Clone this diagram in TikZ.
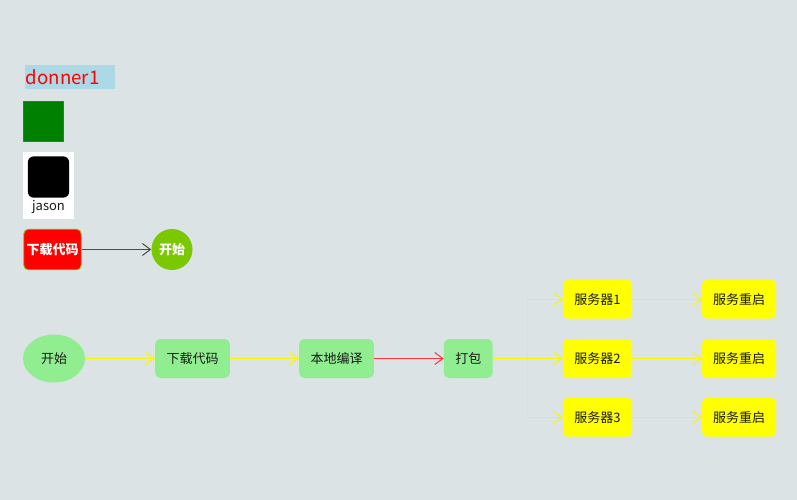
\documentclass[tikz,border=0pt]{standalone}
\usepackage{fontspec}
\setmainfont{Noto Sans CJK SC}
\usetikzlibrary{arrows.meta,positioning,calc,shapes.geometric}
\definecolor{bgcol}{RGB}{219,227,228}
\definecolor{lightgrn}{RGB}{144,238,144}
\definecolor{leafgrn}{RGB}{122,201,0}
\definecolor{skyblue}{RGB}{173,216,230}
\definecolor{pureyel}{RGB}{255,255,0}
\definecolor{lineyel}{RGB}{252,246,0}
\definecolor{purered}{RGB}{255,0,0}
\definecolor{puregrn}{RGB}{0,128,0}
\definecolor{softred}{RGB}{255,50,60}
\definecolor{edgered}{RGB}{225,40,40}
\tikzset{
  >={Straight Barb[length=6pt,width=9pt,line width=0.75pt]},
  txt/.style={font=\fontsize{9.75pt}{11pt}\selectfont,text=black!90,inner sep=0pt},
  stepbox/.style={txt,fill=lightgrn,rounded corners=3.75pt,minimum height=29.25pt},
  srvbox/.style={txt,fill=pureyel,rounded corners=3.75pt,minimum height=29.25pt},
  yline/.style={->,lineyel,line width=0.75pt},
  whitetxt/.style={inner sep=0pt,text=white,font=\bfseries\fontsize{9.75pt}{11pt}\selectfont},
}
\begin{document}
\begin{tikzpicture}[x=0.75pt,y=-0.75pt,line join=round]
\fill[bgcol] (0,0) rectangle (797,500);
\useasboundingbox (0,0) rectangle (797,500);
% top samples
\node[fill=skyblue,minimum width=67.5pt,minimum height=18pt,inner sep=0pt] (title) at (70,77) {};
\node[anchor=west,inner sep=0pt,text=purered,font=\fontsize{14pt}{16pt}\selectfont] (titletxt) at (25.5,77) {donner1};
\node[fill=puregrn,draw=edgered,line width=0.75pt,minimum size=30pt,inner sep=0pt] (square) at (43.5,121.5) {};
\node[fill=white,minimum width=38.25pt,minimum height=50.25pt,inner sep=0pt] (card) at (48.5,185.5) {};
\node[fill=black,rounded corners=4.5pt,minimum size=31pt,inner sep=0pt] (avatar) at (48.5,177) {};
\node[txt] (jason) at (48.5,207) {jason};
\node[whitetxt,fill=purered,draw=leafgrn,line width=0.6pt,rounded corners=3.5pt,minimum width=43pt,minimum height=30.5pt] (dl) at (52.5,249.5) {下载代码};
\node[whitetxt,circle,fill=leafgrn,minimum size=30.75pt] (go) at (172,249.5) {开始};
\draw[->,black!70,line width=0.75pt] (dl)--(go);
% flow
\node[ellipse,txt,fill=lightgrn,minimum width=46.5pt,minimum height=36pt] (start) at (54,358.5) {开始};
\node[stepbox,minimum width=56pt] (fetch) at (192.5,358.5) {下载代码};
\node[stepbox,minimum width=56pt] (build) at (336.5,358.5) {本地编译};
\node[stepbox,minimum width=36.5pt] (pack) at (468.25,358.5) {打包};
\coordinate (fork) at (527.3,358.5);
\foreach \i/\y in {1/299.2,2/358.5,3/417.2}
{
  \node[srvbox,minimum width=52pt] (srv\i) at (597.5,\y) {服务器\i};
  \node[srvbox,minimum width=55.5pt] (re\i) at (739,\y) {服务重启};
  \draw[yline] (srv\i)--(re\i);
  \draw[yline] (fork) |- (srv\i);
}
\draw[yline] (start)--(fetch);
\draw[yline] (fetch)--(build);
\draw[->,softred,line width=0.75pt] (build)--(pack);
\draw[lineyel,line width=0.75pt] (pack)--(fork);
\end{tikzpicture}
\end{document}
